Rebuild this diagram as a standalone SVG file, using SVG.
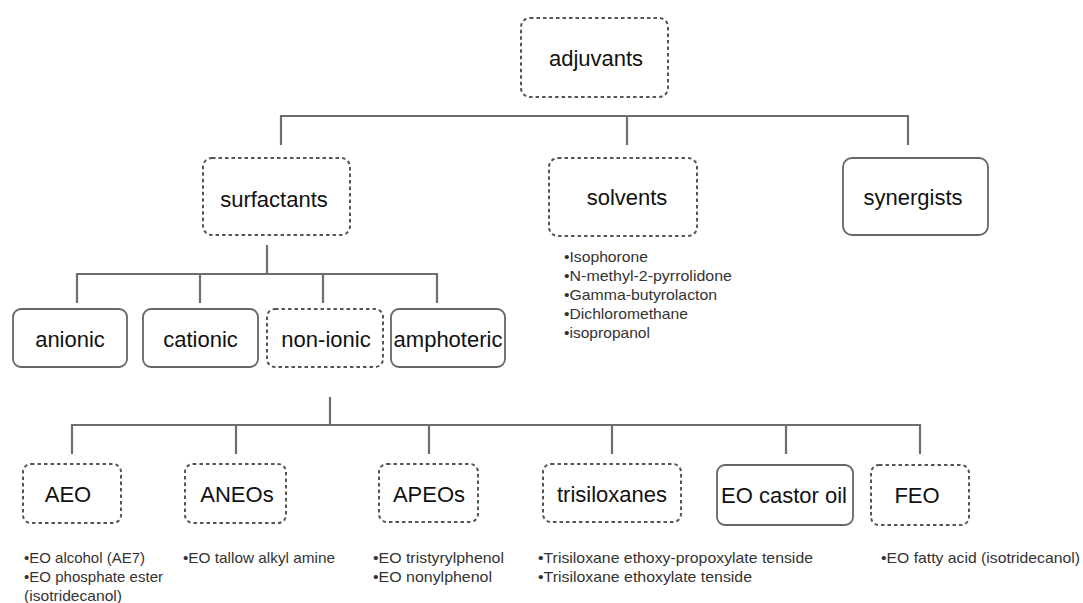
<svg xmlns="http://www.w3.org/2000/svg" width="1083" height="603" viewBox="0 0 1083 603">
<style>
.bg{fill:#ffffff}
.dot{fill:#fff;stroke:#555;stroke-width:2;stroke-dasharray:3.5 3}
.sol{fill:#fff;stroke:#666;stroke-width:1.8}
.lbl{font-family:"Liberation Sans",Arial,sans-serif;font-size:22px;fill:#111;text-anchor:middle}
.sm{font-family:"Liberation Sans",Arial,sans-serif;font-size:15px;fill:#333}
.con{fill:none;stroke:#6e6e6e;stroke-width:2.2}
</style>
<rect class="bg" x="0" y="0" width="1083" height="603"/>
<g id="connectors">
<path class="con" d="M281 145 V116 H908 V145 M627 116 V145"/>
<path class="con" d="M267 245 V274 M77 303 V274 H437 V303 M200 274 V303 M323 274 V303"/>
<path class="con" d="M330 397 V425 M72 454 V425 H920 V454 M236 425 V454 M429 425 V454 M612 425 V454 M786 425 V454"/>
</g>
<g id="adjuvants"><rect class="dot" x="521" y="18" width="147" height="79" rx="9"/><text class="lbl" x="596" y="66">adjuvants</text></g>
<g id="surfactants"><rect class="dot" x="203" y="158" width="147" height="77" rx="9"/><text class="lbl" x="274" y="207">surfactants</text></g>
<g id="solvents"><rect class="dot" x="549" y="158" width="148" height="78" rx="9"/><text class="lbl" x="627" y="205">solvents</text>
<text class="sm" x="564" y="262" textLength="84" lengthAdjust="spacingAndGlyphs">•Isophorone</text>
<text class="sm" x="564" y="281" textLength="168" lengthAdjust="spacingAndGlyphs">•N-methyl-2-pyrrolidone</text>
<text class="sm" x="564" y="300" textLength="153" lengthAdjust="spacingAndGlyphs">•Gamma-butyrolacton</text>
<text class="sm" x="564" y="319" textLength="124" lengthAdjust="spacingAndGlyphs">•Dichloromethane</text>
<text class="sm" x="564" y="338" textLength="86" lengthAdjust="spacingAndGlyphs">•isopropanol</text></g>
<g id="synergists"><rect class="sol" x="843" y="158" width="145" height="77" rx="9"/><text class="lbl" x="913" y="205">synergists</text></g>
<g id="anionic"><rect class="sol" x="13" y="309" width="114" height="58" rx="8"/><text class="lbl" x="70" y="347">anionic</text></g>
<g id="cationic"><rect class="sol" x="143" y="309" width="115" height="58" rx="8"/><text class="lbl" x="200.5" y="347">cationic</text></g>
<g id="non-ionic"><rect class="dot" x="267" y="309" width="116" height="58" rx="8"/><text class="lbl" x="326" y="347">non-ionic</text></g>
<g id="amphoteric"><rect class="sol" x="391" y="309" width="114" height="58" rx="8"/><text class="lbl" x="448" y="347">amphoteric</text></g>
<g id="AEO"><rect class="dot" x="23" y="464" width="98" height="59" rx="8"/><text class="lbl" x="68" y="502">AEO</text>
<text class="sm" x="24" y="563" textLength="121" lengthAdjust="spacingAndGlyphs">•EO alcohol (AE7)</text>
<text class="sm" x="24" y="582" textLength="139" lengthAdjust="spacingAndGlyphs">•EO phosphate ester</text>
<text class="sm" x="24" y="601" textLength="98" lengthAdjust="spacingAndGlyphs">(isotridecanol)</text></g>
<g id="ANEOs"><rect class="dot" x="185" y="464" width="101" height="59" rx="8"/><text class="lbl" x="237" y="502">ANEOs</text>
<text class="sm" x="183" y="563" textLength="152" lengthAdjust="spacingAndGlyphs">•EO tallow alkyl amine</text></g>
<g id="APEOs"><rect class="dot" x="379" y="464" width="99" height="58" rx="8"/><text class="lbl" x="429" y="502">APEOs</text>
<text class="sm" x="373" y="563" textLength="131" lengthAdjust="spacingAndGlyphs">•EO tristyrylphenol</text>
<text class="sm" x="373" y="582" textLength="119" lengthAdjust="spacingAndGlyphs">•EO nonylphenol</text></g>
<g id="trisiloxanes"><rect class="dot" x="543" y="464" width="138" height="58" rx="8"/><text class="lbl" x="612" y="502">trisiloxanes</text>
<text class="sm" x="538" y="563" textLength="275" lengthAdjust="spacingAndGlyphs">•Trisiloxane ethoxy-propoxylate tenside</text>
<text class="sm" x="538" y="582" textLength="214" lengthAdjust="spacingAndGlyphs">•Trisiloxane ethoxylate tenside</text></g>
<g id="EO-castor-oil"><rect class="sol" x="717" y="465" width="136" height="60" rx="8"/><text class="lbl" x="784" y="503">EO castor oil</text></g>
<g id="FEO"><rect class="dot" x="871" y="465" width="98" height="60" rx="8"/><text class="lbl" x="917" y="503">FEO</text>
<text class="sm" x="881" y="563" textLength="199" lengthAdjust="spacingAndGlyphs">•EO fatty acid (isotridecanol)</text></g>
</svg>
